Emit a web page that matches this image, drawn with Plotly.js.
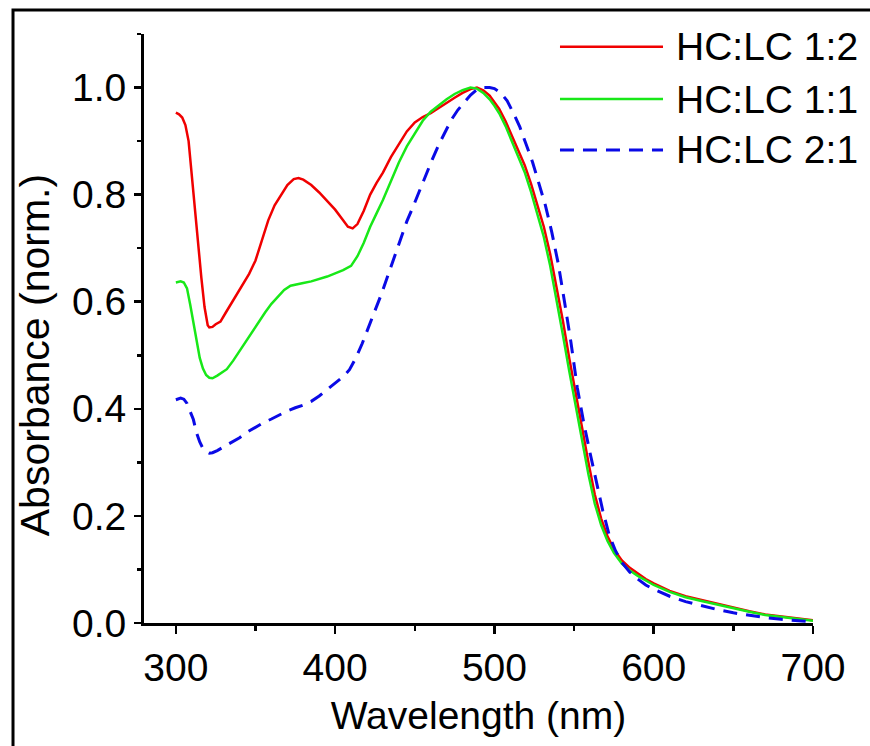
<!DOCTYPE html>
<html>
<head>
<meta charset="utf-8">
<script src="https://cdn.plot.ly/plotly-3.0.1.min.js"></script>
<style>
html,body{margin:0;padding:0;background:#fff;}
#chart{width:870px;height:746px;}
</style>
</head>
<body>
<div id="chart"></div>
<script>
// Series names
const seriesNames = ["HC:LC 1:2", "HC:LC 1:1", "HC:LC 2:1"];

// HC:LC 1:2 (red)
const wlRed = [300,302,304,306,308,310,312,314,316,318,320,321,323,325,328,331,334,338,342,346,350,354,358,362,366,370,374,377,380,385,390,395,400,405,408,411,414,418,422,426,430,435,440,445,450,455,460,465,470,475,480,485,489,493,497,500,503,507,511,515,519,523,527,531,535,539,543,547,551,555,559,563,567,571,575,580,585,590,595,600,610,620,630,640,650,660,670,680,690,700];
const absRed = [0.953,0.950,0.944,0.930,0.900,0.835,0.765,0.705,0.645,0.590,0.556,0.552,0.553,0.558,0.563,0.578,0.593,0.612,0.632,0.652,0.677,0.715,0.752,0.780,0.800,0.818,0.829,0.831,0.828,0.818,0.804,0.788,0.772,0.752,0.740,0.737,0.745,0.770,0.800,0.822,0.841,0.870,0.895,0.918,0.935,0.945,0.952,0.962,0.972,0.981,0.990,0.997,1.000,0.995,0.985,0.973,0.960,0.937,0.910,0.885,0.855,0.820,0.780,0.740,0.689,0.630,0.564,0.494,0.432,0.365,0.300,0.240,0.195,0.162,0.138,0.117,0.103,0.092,0.082,0.074,0.060,0.050,0.043,0.035,0.028,0.022,0.016,0.012,0.008,0.005];

// HC:LC 1:1 (green)
const wlGreen = [300,303,305,307,309,311,313,315,317,319,321,323,326,329,332,336,340,344,348,352,356,360,364,368,372,376,380,385,390,395,400,405,410,414,418,422,426,430,435,440,445,450,455,460,465,470,475,480,485,489,493,497,500,503,507,511,515,519,523,527,531,535,539,543,547,551,555,559,563,567,571,575,580,585,590,595,600,610,620,630,640,650,660,670,680,690,700];
const absGreen = [0.636,0.638,0.636,0.625,0.595,0.560,0.522,0.495,0.475,0.463,0.458,0.457,0.462,0.468,0.474,0.490,0.508,0.526,0.545,0.563,0.580,0.596,0.610,0.622,0.630,0.633,0.635,0.638,0.642,0.647,0.653,0.659,0.667,0.685,0.710,0.740,0.765,0.790,0.825,0.860,0.890,0.915,0.938,0.955,0.967,0.978,0.988,0.995,1.000,0.998,0.990,0.978,0.966,0.952,0.928,0.900,0.873,0.842,0.805,0.765,0.721,0.667,0.605,0.538,0.470,0.407,0.340,0.278,0.223,0.183,0.153,0.131,0.111,0.098,0.088,0.079,0.071,0.058,0.048,0.041,0.034,0.027,0.021,0.015,0.011,0.007,0.004];

// HC:LC 2:1 (blue, dashed)
const wlBlue = [300,303,305,307,309,311,313,315,317,319,321,323,326,330,335,340,345,350,355,360,365,370,375,380,385,390,395,400,405,409,413,417,421,425,429,433,437,441,445,449,453,457,461,465,469,473,477,481,485,489,493,497,500,504,508,512,516,520,524,528,532,536,540,544,548,552,556,560,564,568,572,576,580,585,590,595,600,610,620,630,640,650,660,670,680,690,700];
const absBlue = [0.417,0.420,0.418,0.410,0.395,0.380,0.355,0.338,0.326,0.320,0.317,0.318,0.322,0.329,0.337,0.346,0.357,0.366,0.374,0.381,0.389,0.396,0.402,0.407,0.414,0.424,0.436,0.448,0.460,0.473,0.495,0.522,0.552,0.583,0.614,0.648,0.683,0.718,0.750,0.778,0.808,0.838,0.866,0.893,0.916,0.940,0.958,0.973,0.986,0.996,1.000,1.000,0.998,0.990,0.975,0.952,0.926,0.893,0.860,0.820,0.780,0.730,0.672,0.600,0.525,0.440,0.375,0.318,0.265,0.210,0.165,0.135,0.113,0.095,0.082,0.071,0.063,0.050,0.040,0.032,0.025,0.019,0.014,0.010,0.007,0.004,0.002];

// Axis text
const xTitle = "Wavelength (nm)";
const yTitle = "Absorbance (norm.)";

const colors = ["#f00000", "#18e818", "#0a0ae6"];
const FONT = "Liberation Sans, Arial, Helvetica, sans-serif";

const traces = [
  {x: wlRed, y: absRed, name: seriesNames[0], type: "scatter", mode: "lines",
   line: {color: colors[0], width: 2.5}},
  {x: wlGreen, y: absGreen, name: seriesNames[1], type: "scatter", mode: "lines",
   line: {color: colors[1], width: 2.5}},
  {x: wlBlue, y: absBlue, name: seriesNames[2], type: "scatter", mode: "lines",
   line: {color: colors[2], width: 3, dash: "14px,9px"}}
];

// Manual legend (long line samples as in the original)
const legendY = [0.9784, 0.8896, 0.8031];
const legendShapes = seriesNames.map((n, i) => ({
  type: "line", xref: "paper", yref: "paper",
  x0: 0.6218, x1: 0.7758, y0: legendY[i], y1: legendY[i],
  line: {color: colors[i], width: i === 2 ? 3 : 2.5, dash: i === 2 ? "14px,9px" : "solid"}
}));
const legendAnn = seriesNames.map((n, i) => ({
  text: n, xref: "paper", yref: "paper", x: 0.793, y: legendY[i],
  xanchor: "left", yanchor: "middle", showarrow: false, borderpad: 0,
  font: {family: FONT, size: 39, color: "#000"}
}));

const layout = {
  width: 870, height: 746,
  paper_bgcolor: "#fff", plot_bgcolor: "#fff",
  margin: {l: 144, r: 57, t: 34, b: 123},
  showlegend: false,
  font: {family: FONT, size: 39, color: "#000"},
  xaxis: {
    range: [280, 700], tickmode: "linear", tick0: 0, dtick: 100,
    showline: true, linecolor: "#000", linewidth: 3,
    ticks: "outside", ticklen: 8, tickwidth: 2.5, tickcolor: "#000",
    showgrid: false, zeroline: false,
    tickfont: {family: FONT, size: 39, color: "#000"},
    minor: {tick0: 0, dtick: 50, ticks: "outside", ticklen: 5, tickwidth: 2.5, tickcolor: "#000", showgrid: false},
    title: {text: xTitle, font: {family: FONT, size: 39, color: "#000"}, standoff: 14}
  },
  yaxis: {
    range: [0, 1.1], tickmode: "linear", tick0: 0, dtick: 0.2, tickformat: ".1f",
    showline: true, linecolor: "#000", linewidth: 3,
    ticks: "outside", ticklen: 7, tickwidth: 2.5, tickcolor: "#000",
    showgrid: false, zeroline: false,
    tickfont: {family: FONT, size: 39, color: "#000"},
    minor: {tick0: 0, dtick: 0.1, ticks: "outside", ticklen: 4, tickwidth: 2.5, tickcolor: "#000", showgrid: false}
  },
  shapes: [
    {type: "rect", xref: "paper", yref: "paper", x0: -0.1958, x1: 1.3, y0: -0.4, y1: 1.0408,
     line: {color: "#000", width: 3}, fillcolor: "rgba(0,0,0,0)"}
  ].concat(legendShapes),
  annotations: [
    {text: yTitle, xref: "paper", yref: "y", x: -0.163, y: 0.5, textangle: -90,
     xanchor: "center", yanchor: "middle", showarrow: false,
     font: {family: FONT, size: 41, color: "#000"}}
  ].concat(legendAnn)
};

Plotly.newPlot("chart", traces, layout, {displayModeBar: false, staticPlot: true});
</script>
</body>
</html>
